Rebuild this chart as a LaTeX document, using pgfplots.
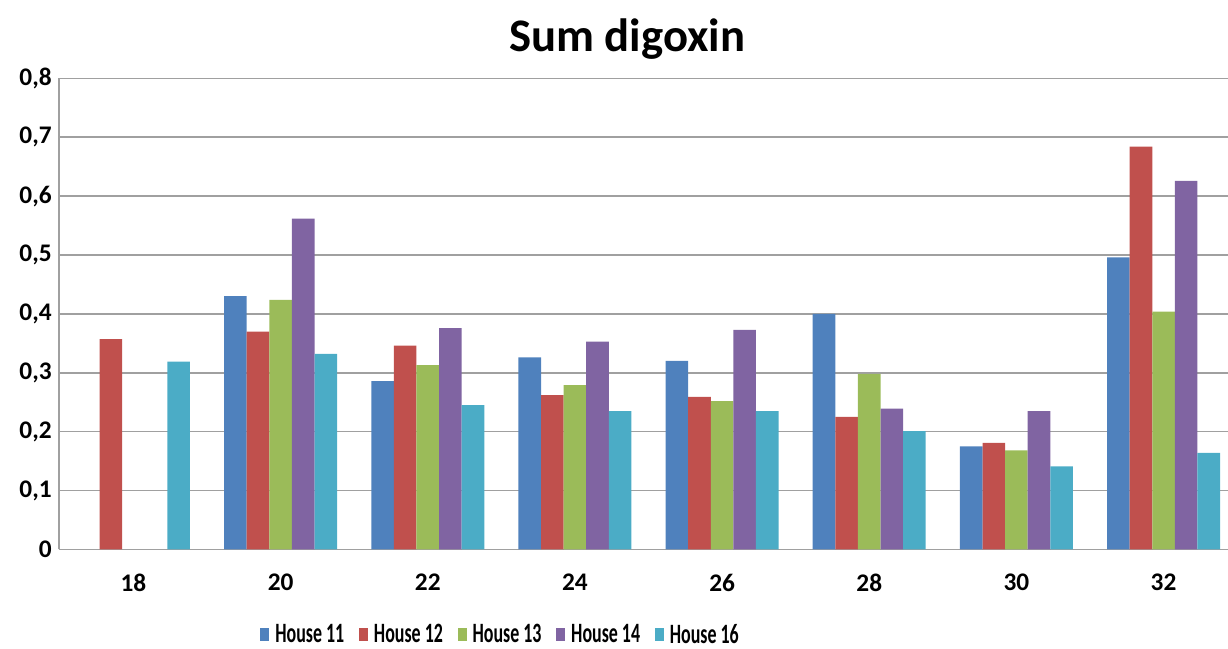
\documentclass[border=0pt]{standalone}
\usepackage{fontspec}
\setmainfont{Carlito}
\newfontfamily\legfont[FakeStretch=0.64]{Carlito}
\usepackage{pgfplots}
\pgfplotsset{compat=1.18}
\definecolor{cA}{HTML}{4F81BD}
\definecolor{cB}{HTML}{C0504D}
\definecolor{cC}{HTML}{9BBB59}
\definecolor{cD}{HTML}{8064A2}
\definecolor{cE}{HTML}{4BACC6}
\definecolor{gridc}{HTML}{A0A0A0}
\begin{document}
\begin{tikzpicture}
\begin{axis}[
  scale only axis,
  width=876.75pt, height=353.25pt,
  xmin=-0.506, xmax=7.438,
  ymin=0, ymax=0.8,
  ytick={0,0.1,...,0.8},
  xtick={0,1,2,3,4,5,6,7},
  xticklabels={18,20,22,24,26,28,30,32},
  axis x line*=bottom, axis y line*=left,
  axis line style={gridc, line width=1.2pt, -},
  ymajorgrids, major grid style={gridc, line width=1.2pt},
  major tick length=0pt,
  /pgf/number format/.cd, use comma, fixed, precision=1, assume math mode=true,
  /pgfplots/.cd,
  tick label style={font=\bfseries\fontsize{19}{22}\selectfont},
  yticklabel style={xshift=-2pt},
  xticklabel style={yshift=-15pt},
  ybar, bar width=16.95pt,
  title={\bfseries Sum digoxin},
  title style={font=\fontsize{35}{40}\selectfont, at={(0.486,1.066)}, anchor=center},
  legend columns=5,
  legend style={draw=none, at={(0.378,-0.181)}, anchor=center,
    font=\legfont\bfseries\fontsize{21}{24}\selectfont,
    /tikz/every odd column/.append style={column sep=2.5pt},
    /tikz/every even column/.append style={column sep=9pt},
    inner sep=0pt},
  legend image code/.code={\fill[#1] (0pt,-4.9pt) rectangle (6.75pt,4.9pt);},
]
\addplot[fill=cA, draw=none, bar shift=-33.9pt] coordinates {(1,0.430) (2,0.286) (3,0.326) (4,0.320) (5,0.400) (6,0.175) (7,0.496)};
\addplot[fill=cB, draw=none, bar shift=-16.95pt] coordinates {(0,0.357) (1,0.370) (2,0.346) (3,0.262) (4,0.259) (5,0.225) (6,0.181) (7,0.684)};
\addplot[fill=cC, draw=none, bar shift=0pt] coordinates {(1,0.424) (2,0.313) (3,0.279) (4,0.252) (5,0.298) (6,0.168) (7,0.404)};
\addplot[fill=cD, draw=none, bar shift=16.95pt] coordinates {(1,0.562) (2,0.376) (3,0.353) (4,0.373) (5,0.239) (6,0.235) (7,0.626)};
\addplot[fill=cE, draw=none, bar shift=33.9pt] coordinates {(0,0.319) (1,0.332) (2,0.245) (3,0.235) (4,0.235) (5,0.201) (6,0.141) (7,0.164)};
\legend{House 11, House 12, House 13, House 14, House 16}
\end{axis}
\pgfresetboundingbox
\path[use as bounding box] (-44.25pt,-74.6pt) rectangle (876.75pt,412.05pt);
\end{tikzpicture}
\end{document}
